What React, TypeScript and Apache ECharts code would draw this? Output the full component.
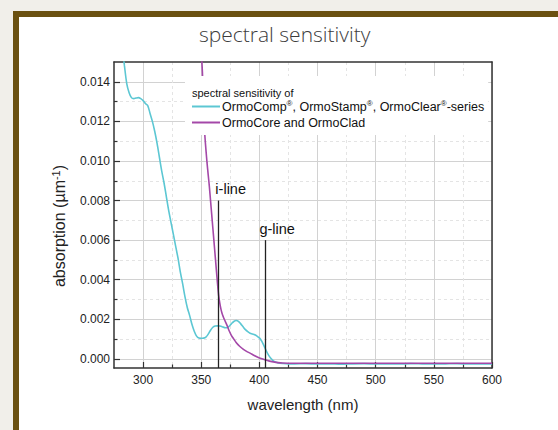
import React, { useEffect, useRef } from "react";
import * as echarts from "echarts";

const titleText = "spectral sensitivity";
const legendHeading = "spectral sensitivity of";
const cyanName = "OrmoComp®, OrmoStamp®, OrmoClear®-series";
const magentaName = "OrmoCore and OrmoClad";
const xAxisName = "wavelength (nm)";

const X_MIN = 275;
const X_MAX = 600;
const Y_MIN = -0.00046;
const Y_MAX = 0.015;

const xMajorTicks = [300, 350, 400, 450, 500, 550, 600];
const xMinorTicks = [325, 375, 425, 475, 525, 575];
const yMajorTicks = [0, 0.002, 0.004, 0.006, 0.008, 0.01, 0.012, 0.014];
const yMinorTicks = [0.001, 0.003, 0.005, 0.007, 0.009, 0.011, 0.013];

const cyanWavelengths = [
  278, 280, 282, 284, 286, 288, 290, 292, 294, 296, 298, 300, 302, 304, 306, 308, 310,
  312, 314, 316, 318, 320, 322, 324, 326, 328, 330, 332, 334, 336, 338, 340, 342, 344,
  346, 348, 350, 352, 354, 356, 358, 360, 362, 364, 366, 368, 370, 372, 374, 376, 378,
  380, 382, 384, 386, 388, 390, 392, 394, 396, 398, 400, 402, 404, 406, 408, 410, 412,
  414, 416, 420, 425, 430, 440, 450, 460, 470, 480, 490, 500, 510, 520, 530, 540, 550,
  560, 570, 580, 590, 600,
];
const cyanValues = [
  0.0178, 0.0168, 0.0158, 0.0148, 0.0139, 0.01345, 0.0132, 0.01315, 0.01318, 0.0132,
  0.01315, 0.01305, 0.0129, 0.0128, 0.0124, 0.012, 0.0115, 0.0109, 0.0102, 0.0095,
  0.0089, 0.0082, 0.0075, 0.0069, 0.0063, 0.0057, 0.0051, 0.0044, 0.0038, 0.00315,
  0.0026, 0.0022, 0.00175, 0.0014, 0.00115, 0.00105, 0.00104, 0.00105, 0.0011, 0.00125,
  0.00145, 0.0016, 0.00166, 0.00167, 0.00166, 0.00163, 0.00158, 0.00157, 0.00165,
  0.00178, 0.00189, 0.00194, 0.0019, 0.00177, 0.00162, 0.00148, 0.00138, 0.0013,
  0.00126, 0.00122, 0.00115, 0.00106, 0.0009, 0.00066, 0.0004, 0.00018, 0.00002,
  -0.0001, -0.00016, -0.0002, -0.00023, -0.00025, -0.00025, -0.00024, -0.00026,
  -0.00025, -0.00027, -0.00025, -0.00024, -0.00026, -0.00025, -0.00026, -0.00024,
  -0.00025, -0.00026, -0.00025, -0.00024, -0.00026, -0.00025, -0.00025,
];

const magentaWavelengths = [
  346, 348, 350, 351, 352, 353, 354, 355, 356, 357, 358, 359, 360, 361, 362, 363, 364,
  365, 366, 367, 368, 369, 370, 372, 374, 376, 378, 380, 383, 386, 389, 392, 396, 400,
  404, 408, 412, 416, 420, 430, 450, 470, 490, 510, 530, 550, 570, 600,
];
const magentaValues = [
  0.02, 0.0178, 0.0156, 0.0145, 0.0128, 0.0114, 0.0106, 0.0099, 0.0093, 0.0087, 0.008,
  0.0073, 0.0066, 0.0059, 0.0052, 0.0045, 0.0038, 0.0032, 0.0028, 0.0025, 0.00228,
  0.00212, 0.00198, 0.00172, 0.00142, 0.00118, 0.001, 0.00083, 0.00064, 0.00049,
  0.00038, 0.00029, 0.00016, 0.00005, -0.00003, -0.0001, -0.00015, -0.00019, -0.00021,
  -0.00022, -0.00022, -0.00022, -0.00022, -0.00022, -0.00022, -0.00022, -0.00022,
  -0.00022,
];

const markerWavelengths = [365, 405];
const markerTops = [0.008, 0.006];
const markerLabels = ["i-line", "g-line"];

const FONT = "'Liberation Sans', Arial, sans-serif";
const AXIS_COLOR = "#333";
const CYAN = "#5cc7d3";
const MAGENTA = "#a448a8";

function App() {
  const ref = useRef<HTMLDivElement>(null);

  useEffect(() => {
    if (!ref.current) return;
    const chart = echarts.init(ref.current, undefined, { renderer: "svg" });

    const cyanData = cyanWavelengths.map((w, i) => [w, cyanValues[i]]);
    const magentaData = magentaWavelengths.map((w, i) => [w, magentaValues[i]]);
    const axisLineStyle = { color: AXIS_COLOR, width: 1.5 };
    const tickLineStyle = { color: AXIS_COLOR, width: 1.2 };
    const majorGrid = { color: "#d2d2d2", width: 1 };
    const minorGrid = { color: "#e4e4e4", width: 1, type: [3, 3] as number[] };

    chart.setOption({
      animation: false,
      title: [
        {
          text: titleText,
          left: 199,
          top: 23,
          padding: 0,
          textStyle: {
            fontFamily: "'Open Sans', 'Noto Sans', sans-serif",
            fontWeight: 300,
            fontSize: 21,
            color: "#3c3c3c",
          },
        },
        {
          text: legendHeading,
          left: 192,
          top: 86,
          padding: 0,
          z: 10,
          textStyle: {
            fontFamily: FONT,
            fontWeight: "normal",
            fontSize: 11,
            lineHeight: 13,
            color: "#111",
          },
        },
      ],
      legend: {
        orient: "vertical",
        left: 185,
        top: 76,
        padding: [23, 4, 5, 7],
        backgroundColor: "#ffffff",
        z: 5,
        selectedMode: false,
        icon: "rect",
        itemWidth: 28,
        itemHeight: 2,
        itemGap: 1,
        data: [cyanName, magentaName],
        formatter: (name: string) => name.replace(/®/g, "{sup|®}"),
        textStyle: {
          fontFamily: FONT,
          fontSize: 12.5,
          lineHeight: 15,
          color: "#111",
          padding: [0, 0, 0, -3],
          rich: {
            sup: { fontSize: 8, verticalAlign: "top", lineHeight: 9, fontFamily: FONT, color: "#111" },
          },
        },
      },
      grid: { left: 114, right: 66, top: 62, bottom: 62 },
      xAxis: [
        {
          type: "value",
          min: X_MIN,
          max: X_MAX,
          position: "bottom",
          name: xAxisName,
          nameLocation: "middle",
          nameGap: 29,
          nameTextStyle: { fontFamily: FONT, fontSize: 15, color: "#222" },
          axisLine: { onZero: false, lineStyle: axisLineStyle },
          axisTick: { inside: true, length: 6, customValues: xMajorTicks, lineStyle: tickLineStyle },
          axisLabel: { customValues: xMajorTicks, fontFamily: FONT, fontSize: 12, color: "#222", margin: 6 },
          splitLine: { show: true, lineStyle: majorGrid },
        },
        {
          type: "value",
          min: X_MIN,
          max: X_MAX,
          position: "bottom",
          axisLine: { show: false, onZero: false },
          axisTick: { inside: true, length: 3.5, customValues: xMinorTicks, lineStyle: tickLineStyle },
          axisLabel: { show: false },
          splitLine: { show: true, lineStyle: minorGrid },
        },
        {
          type: "value",
          min: X_MIN,
          max: X_MAX,
          position: "top",
          axisLine: { show: true, onZero: false, lineStyle: axisLineStyle },
          axisTick: { show: false },
          axisLabel: { show: false },
          splitLine: { show: false },
        },
      ],
      yAxis: [
        {
          type: "value",
          min: Y_MIN,
          max: Y_MAX,
          position: "left",
          name: "absorption (µm{sup|-1})",
          nameLocation: "middle",
          nameGap: 37,
          nameTextStyle: {
            fontFamily: FONT,
            fontSize: 16,
            color: "#222",
            lineHeight: 19,
            padding: [0, 22, 0, 0],
            rich: { sup: { fontSize: 11, verticalAlign: "top", lineHeight: 11, fontFamily: FONT, color: "#222" } },
          },
          axisLine: { onZero: false, lineStyle: axisLineStyle },
          axisTick: { inside: true, length: 6, customValues: yMajorTicks, lineStyle: tickLineStyle },
          axisLabel: {
            customValues: yMajorTicks,
            fontFamily: FONT,
            fontSize: 12,
            color: "#222",
            margin: 4,
            formatter: (v: number) => v.toFixed(3),
          },
          splitLine: { show: true, lineStyle: majorGrid },
        },
        {
          type: "value",
          min: Y_MIN,
          max: Y_MAX,
          position: "left",
          axisLine: { show: false, onZero: false },
          axisTick: { inside: true, length: 3.5, customValues: yMinorTicks, lineStyle: tickLineStyle },
          axisLabel: { show: false },
          splitLine: { show: true, lineStyle: minorGrid },
        },
        {
          type: "value",
          min: Y_MIN,
          max: Y_MAX,
          position: "right",
          axisLine: { show: true, onZero: false, lineStyle: axisLineStyle },
          axisTick: { show: false },
          axisLabel: { show: false },
          splitLine: { show: false },
        },
      ],
      series: [
        {
          type: "line",
          name: cyanName,
          xAxisIndex: 0,
          yAxisIndex: 0,
          data: cyanData,
          symbol: "none",
          showSymbol: false,
          smooth: 0.3,
          clip: true,
          lineStyle: { color: CYAN, width: 1.6 },
          itemStyle: { color: CYAN },
          markLine: {
            silent: true,
            symbol: ["none", "none"],
            lineStyle: { color: "#222", width: 1.3, type: "solid" },
            label: {
              show: true,
              position: "end",
              distance: 4,
              fontFamily: FONT,
              fontSize: 14.5,
              color: "#111",
              padding: [0, 0, 0, 24],
            },
            data: markerWavelengths.map((w, i) => [
              { coord: [w, Y_MIN], label: { formatter: markerLabels[i] } },
              { coord: [w, markerTops[i]] },
            ]),
          },
        },
        {
          type: "line",
          name: magentaName,
          xAxisIndex: 0,
          yAxisIndex: 0,
          data: magentaData,
          symbol: "none",
          showSymbol: false,
          smooth: 0.3,
          clip: true,
          lineStyle: { color: MAGENTA, width: 1.6 },
          itemStyle: { color: MAGENTA },
        },
      ],
    });

    return () => {
      chart.dispose();
    };
  }, []);

  return (
    <div
      style={{
        position: "fixed",
        left: 0,
        top: 0,
        width: 558,
        height: 430,
        overflow: "hidden",
        background: "#f1efea",
      }}
    >
      <div
        style={{
          position: "absolute",
          left: 13,
          top: 11,
          width: 620,
          height: 520,
          boxSizing: "border-box",
          border: "6px solid #6a5010",
          background: "#ffffff",
        }}
      />
      <div ref={ref} style={{ position: "absolute", left: 0, top: 0, width: 558, height: 430 }} />
    </div>
  );
}

export default App;
